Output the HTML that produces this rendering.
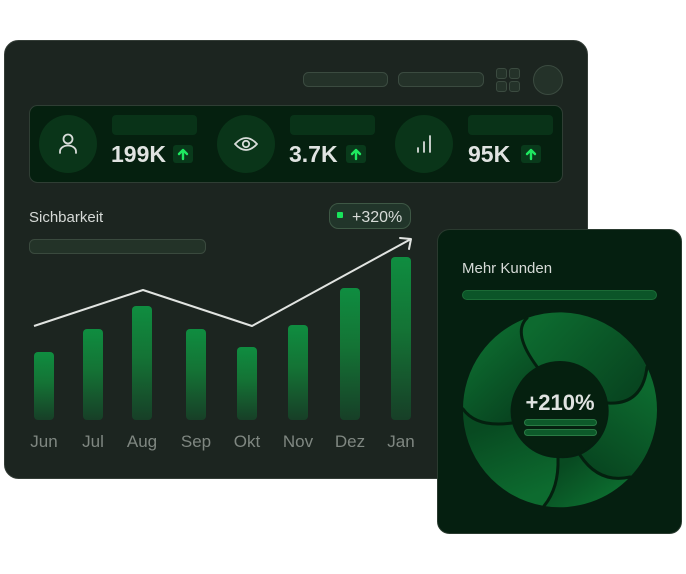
<!DOCTYPE html>
<html><head><meta charset="utf-8">
<style>
html,body{margin:0;padding:0;background:#fff;}
body{width:686px;height:574px;overflow:hidden;}
svg{display:block;}
text{font-family:"Liberation Sans",sans-serif;}
</style></head>
<body>
<svg width="686" height="574" viewBox="0 0 686 574" xmlns="http://www.w3.org/2000/svg">
<defs>
<linearGradient id="bar" x1="0" y1="0" x2="0" y2="1">
<stop offset="0" stop-color="#0f8d40"/>
<stop offset="0.45" stop-color="#147335"/>
<stop offset="1" stop-color="#173f27"/>
</linearGradient>
<linearGradient id="p1" gradientUnits="userSpaceOnUse" x1="540" y1="320" x2="625" y2="400">
<stop offset="0" stop-color="#0d6a2f"/><stop offset="1" stop-color="#084520"/></linearGradient>
<linearGradient id="p2" gradientUnits="userSpaceOnUse" x1="650" y1="390" x2="595" y2="470">
<stop offset="0" stop-color="#0d6a2f"/><stop offset="1" stop-color="#084620"/></linearGradient>
<linearGradient id="p3" gradientUnits="userSpaceOnUse" x1="600" y1="500" x2="570" y2="460">
<stop offset="0" stop-color="#0c6a2e"/><stop offset="1" stop-color="#084a21"/></linearGradient>
<linearGradient id="p4" gradientUnits="userSpaceOnUse" x1="520" y1="500" x2="490" y2="425">
<stop offset="0" stop-color="#0d6b2f"/><stop offset="1" stop-color="#084a21"/></linearGradient>
<linearGradient id="p5" gradientUnits="userSpaceOnUse" x1="475" y1="360" x2="520" y2="410">
<stop offset="0" stop-color="#0c652d"/><stop offset="1" stop-color="#084520"/></linearGradient>
</defs>

<!-- main card -->
<rect x="4.5" y="40.5" width="583" height="438" rx="14" fill="#1c2520" stroke="#343d37"/>

<!-- top bar -->
<rect x="303.5" y="72.5" width="84" height="14" rx="5" fill="#243229" stroke="#3b4b40"/>
<rect x="398.5" y="72.5" width="85" height="14" rx="5" fill="#243229" stroke="#3b4b40"/>
<rect x="496.5" y="68.5" width="10" height="10" rx="2.5" fill="#243229" stroke="#3b4b40"/>
<rect x="509.5" y="68.5" width="10" height="10" rx="2.5" fill="#243229" stroke="#3b4b40"/>
<rect x="496.5" y="81.5" width="10" height="10" rx="2.5" fill="#243229" stroke="#3b4b40"/>
<rect x="509.5" y="81.5" width="10" height="10" rx="2.5" fill="#243229" stroke="#3b4b40"/>
<circle cx="548" cy="80" r="14.5" fill="#243229" stroke="#3b4b40"/>

<!-- stats panel -->
<rect x="29.5" y="105.5" width="533" height="77" rx="8" fill="#05200f" stroke="#2f3e34"/>
<circle cx="68" cy="144" r="29" fill="#0a3519"/>
<circle cx="246" cy="144" r="29" fill="#0a3519"/>
<circle cx="424" cy="144" r="29" fill="#0a3519"/>
<!-- user icon -->
<circle cx="68" cy="139" r="4.5" fill="none" stroke="#d8dcd9" stroke-width="1.8"/>
<path d="M60 153 v-1.5 a8 6 0 0 1 16 0 v1.5" fill="none" stroke="#d8dcd9" stroke-width="1.8" stroke-linecap="round"/>
<!-- eye icon -->
<path d="M235 144 Q246 132 257 144 Q246 156 235 144 Z" fill="none" stroke="#d8dcd9" stroke-width="1.8" stroke-linejoin="round"/>
<circle cx="246" cy="144" r="3.2" fill="none" stroke="#d8dcd9" stroke-width="1.8"/>
<!-- signal icon -->
<path d="M418 148 v4 M424 142 v10 M430 136 v16" stroke="#d8dcd9" stroke-width="1.8" stroke-linecap="round"/>

<rect x="112" y="115" width="85" height="20" rx="4" fill="#093318"/>
<rect x="290" y="115" width="85" height="20" rx="4" fill="#093318"/>
<rect x="468" y="115" width="85" height="20" rx="4" fill="#093318"/>

<text x="111" y="162" font-size="23" font-weight="bold" fill="#e0e3e1">199K</text>
<text x="289" y="162" font-size="23" font-weight="bold" fill="#e0e3e1">3.7K</text>
<text x="468" y="162" font-size="23" font-weight="bold" fill="#e0e3e1">95K</text>

<g>
<rect x="173" y="145" width="20" height="18" rx="3" fill="#093a1b"/>
<path d="M183 159 v-8 M179 154 l4 -4 l4 4" stroke="#1ee860" stroke-width="2.4" fill="none" stroke-linecap="round" stroke-linejoin="round"/>
<rect x="346" y="145" width="20" height="18" rx="3" fill="#093a1b"/>
<path d="M356 159 v-8 M352 154 l4 -4 l4 4" stroke="#1ee860" stroke-width="2.4" fill="none" stroke-linecap="round" stroke-linejoin="round"/>
<rect x="521" y="145" width="20" height="18" rx="3" fill="#093a1b"/>
<path d="M531 159 v-8 M527 154 l4 -4 l4 4" stroke="#1ee860" stroke-width="2.4" fill="none" stroke-linecap="round" stroke-linejoin="round"/>
</g>

<!-- chart section -->
<text x="29" y="222" font-size="15" fill="#d6dad7">Sichbarkeit</text>
<rect x="29.5" y="239.5" width="176" height="14" rx="5" fill="#233328" stroke="#3a4a3e"/>

<rect x="329.5" y="203.5" width="81" height="25" rx="9" fill="#21352a" stroke="#3e5845"/>
<rect x="337" y="212" width="6" height="6" rx="1" fill="#18e35b"/>
<text x="352" y="222" font-size="16" fill="#d7dbd8">+320%</text>

<rect x="34" y="352" width="20" height="68" rx="4" fill="url(#bar)"/>
<rect x="83" y="329" width="20" height="91" rx="4" fill="url(#bar)"/>
<rect x="132" y="306" width="20" height="114" rx="4" fill="url(#bar)"/>
<rect x="186" y="329" width="20" height="91" rx="4" fill="url(#bar)"/>
<rect x="237" y="347" width="20" height="73" rx="4" fill="url(#bar)"/>
<rect x="288" y="325" width="20" height="95" rx="4" fill="url(#bar)"/>
<rect x="340" y="288" width="20" height="132" rx="4" fill="url(#bar)"/>
<rect x="391" y="257" width="20" height="163" rx="4" fill="url(#bar)"/>

<polyline points="34,326 143,290 252,326 411,239" fill="none" stroke="#e1e4e1" stroke-width="2" stroke-linejoin="round"/>
<path d="M400 238 L411 239 L409 249" fill="none" stroke="#e1e4e1" stroke-width="2" stroke-linecap="round" stroke-linejoin="round"/>

<g font-size="17" fill="#7f8781" text-anchor="middle">
<text x="44" y="447">Jun</text>
<text x="93" y="447">Jul</text>
<text x="142" y="447">Aug</text>
<text x="196" y="447">Sep</text>
<text x="247" y="447">Okt</text>
<text x="298" y="447">Nov</text>
<text x="350" y="447">Dez</text>
<text x="401" y="447">Jan</text>
</g>

<!-- right card -->
<rect x="437.5" y="229.5" width="244" height="304" rx="12" fill="#051f10" stroke="#2a3a2f"/>
<text x="462" y="273" font-size="15" fill="#d6dad7">Mehr Kunden</text>
<rect x="462.5" y="290.5" width="194" height="9" rx="4.5" fill="#0b5528" stroke="#1b6b36"/>

<!-- donut petals -->
<path d="M527 318 A97 97 0 0 1 647 367 Q642.5 405 608 403 A48 48 0 0 0 538 368 Q511.5 333 527 318 Z" fill="url(#p1)"/>
<path d="M647 367 A97 97 0 0 1 630 477 Q599 484 580 455 A48 48 0 0 0 608 403 Q642.5 405 647 367 Z" fill="url(#p2)"/>
<path d="M630 477 A97 97 0 0 1 544 506 Q559 488 558 458 A48 48 0 0 0 580 455 Q599 484 630 477 Z" fill="url(#p3)"/>
<path d="M544 506 A97 97 0 0 1 463 409 Q476.5 428 512 423 A48 48 0 0 0 558 458 Q559 488 544 506 Z" fill="url(#p4)"/>
<path d="M463 409 A97 97 0 0 1 527 318 Q511.5 333 538 368 A48 48 0 0 0 512 423 Q476.5 428 463 409 Z" fill="url(#p5)"/>
<g fill="none" stroke="#04200f" stroke-width="3" stroke-linecap="round">
<path d="M527 318 Q511.5 333 538 368"/>
<path d="M647 367 Q642.5 405 608 403"/>
<path d="M630 477 Q599 484 580 455"/>
<path d="M544 506 Q559 488 558 458"/>
<path d="M463 409 Q476.5 428 512 423"/>
</g>
<circle cx="560" cy="409" r="48" fill="#05200f"/>
<text x="560" y="410" font-size="22" font-weight="bold" fill="#e0e3e1" text-anchor="middle">+210%</text>
<rect x="524.5" y="419.5" width="72" height="6" rx="3" fill="#0d5a2a" stroke="#2a7a44"/>
<rect x="524.5" y="429.5" width="72" height="6" rx="3" fill="#0d5a2a" stroke="#2a7a44"/>
</svg>
</body></html>
